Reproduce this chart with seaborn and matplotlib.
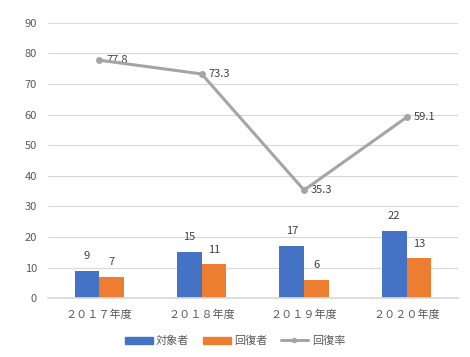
import matplotlib
matplotlib.use("Agg")
import matplotlib.pyplot as plt
import seaborn as sns
import pandas as pd

categories = ["２０１７年度", "２０１８年度", "２０１９年度", "２０２０年度"]
targets = [9, 15, 17, 22]
recovered = [7, 11, 6, 13]
rate = [77.8, 73.3, 35.3, 59.1]
yticks = [0, 10, 20, 30, 40, 50, 60, 70, 80, 90]

sns.set_theme(style="white")
plt.rcParams['font.family'] = ['Noto Sans CJK JP', 'DejaVu Sans']

df = pd.DataFrame({
    "year": categories * 2,
    "value": targets + recovered,
    "series": ["対象者"] * 4 + ["回復者"] * 4,
})

fig = plt.figure(figsize=(4.7, 3.57), dpi=100)
ax = fig.add_axes([0.102, 0.165, 0.872, 0.771])

sns.barplot(data=df, x="year", y="value", hue="series", order=categories,
            hue_order=["対象者", "回復者"], palette=["#4472C4", "#ED7D31"],
            width=0.48, saturation=1, ax=ax, legend=False)
for p in ax.patches:
    p.set_linewidth(0)

for cont in ax.containers:
    ax.bar_label(cont, padding=7, fontsize=8, color="#404040")

sns.lineplot(x=list(range(4)), y=rate, color="#A5A5A5", linewidth=2.2,
             marker="o", markersize=5, markeredgewidth=0, ax=ax, zorder=5)
for i, v in enumerate(rate):
    ax.annotate(f"{v}", (i, v), xytext=(5, 0), textcoords="offset points",
                va="center", ha="left", fontsize=8, color="#404040")

ax.set_ylim(0, 90)
ax.set_xlim(-0.5, 3.5)
ax.set_yticks(yticks)
ax.yaxis.grid(True, color="#D9D9D9", linewidth=0.8)
ax.set_axisbelow(True)
for s in ["top", "right", "left"]:
    ax.spines[s].set_visible(False)
ax.spines["bottom"].set_color("#D9D9D9")
ax.tick_params(axis="both", length=0, labelsize=8, colors="#595959", pad=8)
ax.set_xlabel("")
ax.set_ylabel("")

from matplotlib.patches import Patch
from matplotlib.lines import Line2D
handles = [Patch(color="#4472C4", label="対象者"),
           Patch(color="#ED7D31", label="回復者"),
           Line2D([0], [0], color="#A5A5A5", lw=2.2, marker="o", markersize=4,
                  markeredgewidth=0, label="回復率")]
fig.legend(handles=handles, loc="center", bbox_to_anchor=(0.5, 0.045), ncol=3,
           frameon=False, fontsize=8, handlelength=2.5, handleheight=0.6,
           columnspacing=1.2, handletextpad=0.3, labelcolor="#595959")

fig.savefig("out.png", dpi=100)
